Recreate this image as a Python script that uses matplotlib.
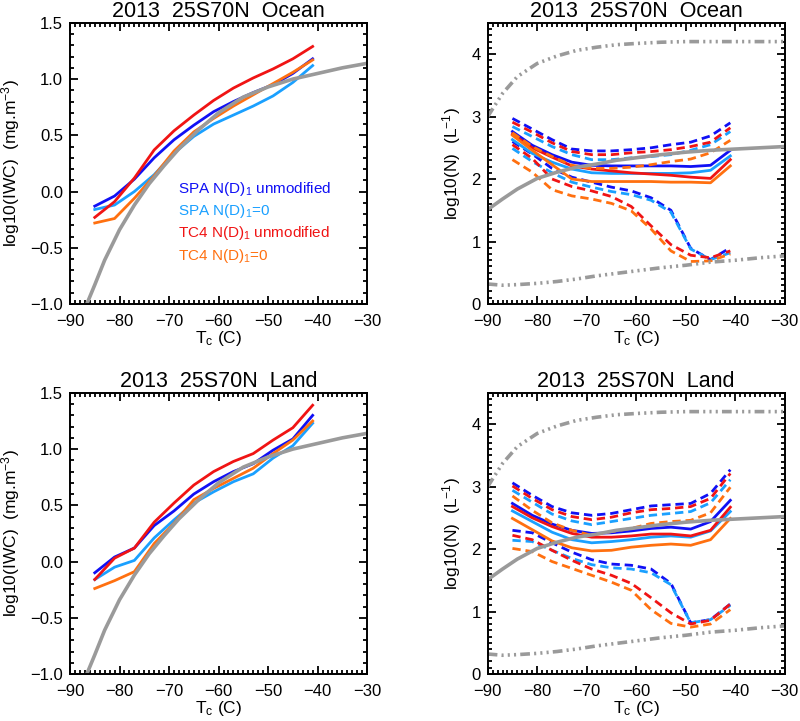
import matplotlib
matplotlib.use('Agg')
import matplotlib.pyplot as plt
from matplotlib.ticker import MultipleLocator

plt.rcParams['font.family'] = ['Liberation Sans', 'DejaVu Sans']
plt.rcParams['mathtext.fontset'] = 'custom'
plt.rcParams['mathtext.rm'] = 'Liberation Sans'
plt.rcParams['mathtext.it'] = 'Liberation Sans:italic'
plt.rcParams['mathtext.bf'] = 'Liberation Sans:bold'
plt.rcParams['lines.scale_dashes'] = False

# temperature bins (C)
temps = [-85, -81, -77, -73, -69, -65, -61, -57, -53, -49, -45, -41]

# ---- log10(IWC), ocean
oc_iwc_spa = [-0.13, -0.04, 0.11, 0.30, 0.46, 0.59, 0.71, 0.80, 0.88, 0.95, 1.05, 1.18]
oc_iwc_spa0 = [-0.16, -0.12, 0.00, 0.15, 0.34, 0.49, 0.60, 0.68, 0.76, 0.85, 0.97, 1.12]
oc_iwc_tc4 = [-0.23, -0.09, 0.12, 0.37, 0.54, 0.68, 0.81, 0.92, 1.01, 1.09, 1.18, 1.29]
oc_iwc_tc40 = [-0.28, -0.24, -0.06, 0.14, 0.36, 0.53, 0.65, 0.76, 0.86, 0.96, 1.06, 1.17]

# ---- log10(IWC), land
ld_iwc_spa = [-0.10, 0.04, 0.12, 0.32, 0.45, 0.60, 0.71, 0.80, 0.87, 0.99, 1.09, 1.30]
ld_iwc_spa0 = [-0.16, -0.05, 0.01, 0.21, 0.37, 0.52, 0.62, 0.71, 0.78, 0.92, 1.03, 1.23]
ld_iwc_tc4 = [-0.16, 0.03, 0.12, 0.35, 0.52, 0.68, 0.80, 0.89, 0.96, 1.08, 1.19, 1.39]
ld_iwc_tc40 = [-0.24, -0.17, -0.09, 0.16, 0.34, 0.55, 0.65, 0.74, 0.83, 0.96, 1.08, 1.25]

# ---- log10(N), ocean: mean, upper, lower
oc_n_spa = [2.76, 2.54, 2.39, 2.27, 2.22, 2.21, 2.21, 2.21, 2.21, 2.20, 2.22, 2.46]
oc_n_spa_hi = [2.97, 2.80, 2.63, 2.48, 2.45, 2.45, 2.47, 2.50, 2.55, 2.59, 2.69, 2.90]
oc_n_spa_lo = [2.60, 2.40, 2.17, 2.03, 1.95, 1.87, 1.81, 1.70, 1.50, 0.89, 0.71, 0.90]
oc_n_spa0 = [2.63, 2.41, 2.27, 2.16, 2.10, 2.09, 2.09, 2.09, 2.09, 2.10, 2.14, 2.37]
oc_n_spa0_hi = [2.84, 2.68, 2.52, 2.39, 2.31, 2.31, 2.34, 2.36, 2.39, 2.46, 2.55, 2.76]
oc_n_spa0_lo = [2.49, 2.28, 2.10, 1.95, 1.87, 1.80, 1.75, 1.66, 1.47, 0.88, 0.71, 0.82]
oc_n_tc4 = [2.72, 2.50, 2.35, 2.21, 2.16, 2.13, 2.10, 2.08, 2.06, 2.03, 2.01, 2.31]
oc_n_tc4_hi = [2.91, 2.75, 2.58, 2.44, 2.39, 2.39, 2.42, 2.44, 2.47, 2.52, 2.59, 2.82]
oc_n_tc4_lo = [2.55, 2.33, 2.00, 1.88, 1.81, 1.72, 1.56, 1.25, 0.95, 0.78, 0.74, 0.85]
oc_n_tc40 = [2.70, 2.46, 2.23, 2.00, 1.96, 1.96, 1.96, 1.96, 1.95, 1.95, 1.94, 2.21]
oc_n_tc40_hi = [2.74, 2.52, 2.36, 2.22, 2.17, 2.17, 2.19, 2.23, 2.28, 2.32, 2.42, 2.62]
oc_n_tc40_lo = [2.31, 2.11, 1.83, 1.73, 1.68, 1.61, 1.49, 1.20, 0.85, 0.68, 0.69, 0.80]

# ---- log10(N), land: mean, upper, lower
ld_n_spa = [2.73, 2.54, 2.40, 2.30, 2.25, 2.26, 2.29, 2.33, 2.35, 2.32, 2.44, 2.78]
ld_n_spa_hi = [3.06, 2.86, 2.68, 2.58, 2.54, 2.57, 2.63, 2.69, 2.71, 2.73, 2.89, 3.27]
ld_n_spa_lo = [2.30, 2.26, 2.10, 1.95, 1.83, 1.76, 1.74, 1.68, 1.45, 0.82, 0.87, 1.12]
ld_n_spa0 = [2.61, 2.44, 2.27, 2.15, 2.10, 2.12, 2.15, 2.19, 2.21, 2.19, 2.29, 2.60]
ld_n_spa0_hi = [2.94, 2.75, 2.56, 2.45, 2.39, 2.44, 2.49, 2.54, 2.57, 2.60, 2.74, 3.11]
ld_n_spa0_lo = [2.14, 2.12, 1.98, 1.85, 1.75, 1.70, 1.68, 1.62, 1.43, 0.82, 0.87, 1.10]
ld_n_tc4 = [2.68, 2.50, 2.36, 2.25, 2.19, 2.19, 2.21, 2.24, 2.24, 2.21, 2.30, 2.67]
ld_n_tc4_hi = [3.01, 2.81, 2.63, 2.52, 2.47, 2.51, 2.58, 2.63, 2.65, 2.68, 2.81, 3.21]
ld_n_tc4_lo = [2.22, 2.15, 1.98, 1.82, 1.68, 1.58, 1.45, 1.22, 0.98, 0.80, 0.86, 1.12]
ld_n_tc40 = [2.49, 2.31, 2.13, 2.02, 1.97, 1.98, 2.03, 2.06, 2.08, 2.06, 2.15, 2.49]
ld_n_tc40_hi = [2.85, 2.62, 2.42, 2.30, 2.22, 2.28, 2.33, 2.41, 2.44, 2.46, 2.58, 2.99]
ld_n_tc40_lo = [2.01, 1.96, 1.80, 1.69, 1.58, 1.47, 1.34, 1.03, 0.81, 0.75, 0.80, 1.03]

# ---- gray reference curves
ref_iwc_t = [-86.6, -85, -83, -80, -77, -74, -71, -68, -64, -60, -55, -50, -45, -40, -35, -30]
ref_iwc = [-1.00, -0.83, -0.61, -0.34, -0.12, 0.07, 0.23, 0.38, 0.55, 0.70, 0.84, 0.93, 1.00, 1.05, 1.10, 1.14]

ref_n_t = [-90, -87, -84, -80, -76, -72, -68, -64, -60, -55, -50, -45, -40, -35, -30]
ref_n_mid = [1.51, 1.68, 1.84, 2.01, 2.11, 2.19, 2.24, 2.30, 2.34, 2.39, 2.43, 2.46, 2.48, 2.50, 2.52]
ref_n_hi = [3.00, 3.37, 3.64, 3.85, 3.97, 4.06, 4.11, 4.15, 4.17, 4.19, 4.20, 4.20, 4.20, 4.20, 4.20]
ref_n_lo = [0.32, 0.30, 0.31, 0.33, 0.36, 0.40, 0.45, 0.49, 0.53, 0.58, 0.62, 0.67, 0.70, 0.74, 0.77]

c_spa = '#1010f5'
c_spa0 = '#1aa0ff'
c_tc4 = '#f01414'
c_tc40 = '#ff7010'
c_gray = '#9a9a9a'

dash = (0, (6, 3.5))
dashdots = (0, (7, 3, 1.5, 3, 1.5, 3, 1.5, 3))

fig = plt.figure(figsize=(8, 7.21), dpi=100)


def style(ax, title, ylabel, ylim, ymaj, ymin):
    ax.set_xlim(-90, -30)
    ax.set_ylim(*ylim)
    ax.xaxis.set_major_locator(MultipleLocator(10))
    ax.xaxis.set_minor_locator(MultipleLocator(1))
    ax.yaxis.set_major_locator(MultipleLocator(ymaj))
    ax.yaxis.set_minor_locator(MultipleLocator(ymin))
    ax.tick_params(which='both', direction='in', top=True, right=True,
                   width=1.3, labelsize=12)
    ax.tick_params(axis='x', pad=7.5)
    ax.tick_params(axis='y', pad=5)
    ax.tick_params(which='major', length=5.5)
    ax.tick_params(which='minor', length=2.8)
    for s in ax.spines.values():
        s.set_linewidth(1.4)
    ax.set_title(title, fontsize=15.5, pad=4)
    ax.set_xlabel(r'T$_\mathrm{c}$ (C)', fontsize=12.5, labelpad=0)
    ax.set_ylabel(ylabel, fontsize=12.5, labelpad=6)


def iwc_panel(rect, title, spa, spa0, tc4, tc40, legend=False):
    ax = fig.add_axes(rect)
    ax.plot(temps, spa, color=c_spa, lw=2)
    ax.plot(temps, spa0, color=c_spa0, lw=2)
    ax.plot(temps, tc4, color=c_tc4, lw=2)
    ax.plot(temps, tc40, color=c_tc40, lw=2)
    ax.plot(ref_iwc_t, ref_iwc, color=c_gray, lw=2.6)
    style(ax, title, r'log10(IWC)  (mg.m$^{-3}$)', (-1.0, 1.5), 0.5, 0.1)
    if legend:
        labels = [r'SPA N(D)$_1$ unmodified', r'SPA N(D)$_1$=0',
                  r'TC4 N(D)$_1$ unmodified', r'TC4 N(D)$_1$=0']
        cols = [c_spa, c_spa0, c_tc4, c_tc40]
        ys = [0.02, -0.175, -0.37, -0.57]
        for lab, col, y in zip(labels, cols, ys):
            ax.text(-68.2, y, lab, color=col, fontsize=11, va='center')
    return ax


def n_panel(rect, title, series):
    ax = fig.add_axes(rect)
    for mean, hi, lo, col in series:
        ax.plot(temps, hi, color=col, lw=2, linestyle=dash)
        ax.plot(temps, lo, color=col, lw=2, linestyle=dash)
        ax.plot(temps, mean, color=col, lw=2)
    ax.plot(ref_n_t, ref_n_mid, color=c_gray, lw=2.6)
    ax.plot(ref_n_t, ref_n_hi, color=c_gray, lw=2.6, linestyle=dashdots)
    ax.plot(ref_n_t, ref_n_lo, color=c_gray, lw=2.6, linestyle=dashdots)
    style(ax, title, r'log10(N)  (L$^{-1}$)', (0, 4.5), 1, 0.1)
    return ax


top, bot, h = 0.5784, 0.0652, 0.3899
lx, rx, w = 0.0875, 0.6096, 0.3714

iwc_panel([lx, top, w, h], '2013  25S70N  Ocean',
          oc_iwc_spa, oc_iwc_spa0, oc_iwc_tc4, oc_iwc_tc40, legend=True)
n_panel([rx, top, w, h], '2013  25S70N  Ocean',
        [(oc_n_spa, oc_n_spa_hi, oc_n_spa_lo, c_spa),
         (oc_n_spa0, oc_n_spa0_hi, oc_n_spa0_lo, c_spa0),
         (oc_n_tc4, oc_n_tc4_hi, oc_n_tc4_lo, c_tc4),
         (oc_n_tc40, oc_n_tc40_hi, oc_n_tc40_lo, c_tc40)])
iwc_panel([lx, bot, w, h], '2013  25S70N  Land',
          ld_iwc_spa, ld_iwc_spa0, ld_iwc_tc4, ld_iwc_tc40)
n_panel([rx, bot, w, h], '2013  25S70N  Land',
        [(ld_n_spa, ld_n_spa_hi, ld_n_spa_lo, c_spa),
         (ld_n_spa0, ld_n_spa0_hi, ld_n_spa0_lo, c_spa0),
         (ld_n_tc4, ld_n_tc4_hi, ld_n_tc4_lo, c_tc4),
         (ld_n_tc40, ld_n_tc40_hi, ld_n_tc40_lo, c_tc40)])

fig.savefig('out.png', dpi=100)
